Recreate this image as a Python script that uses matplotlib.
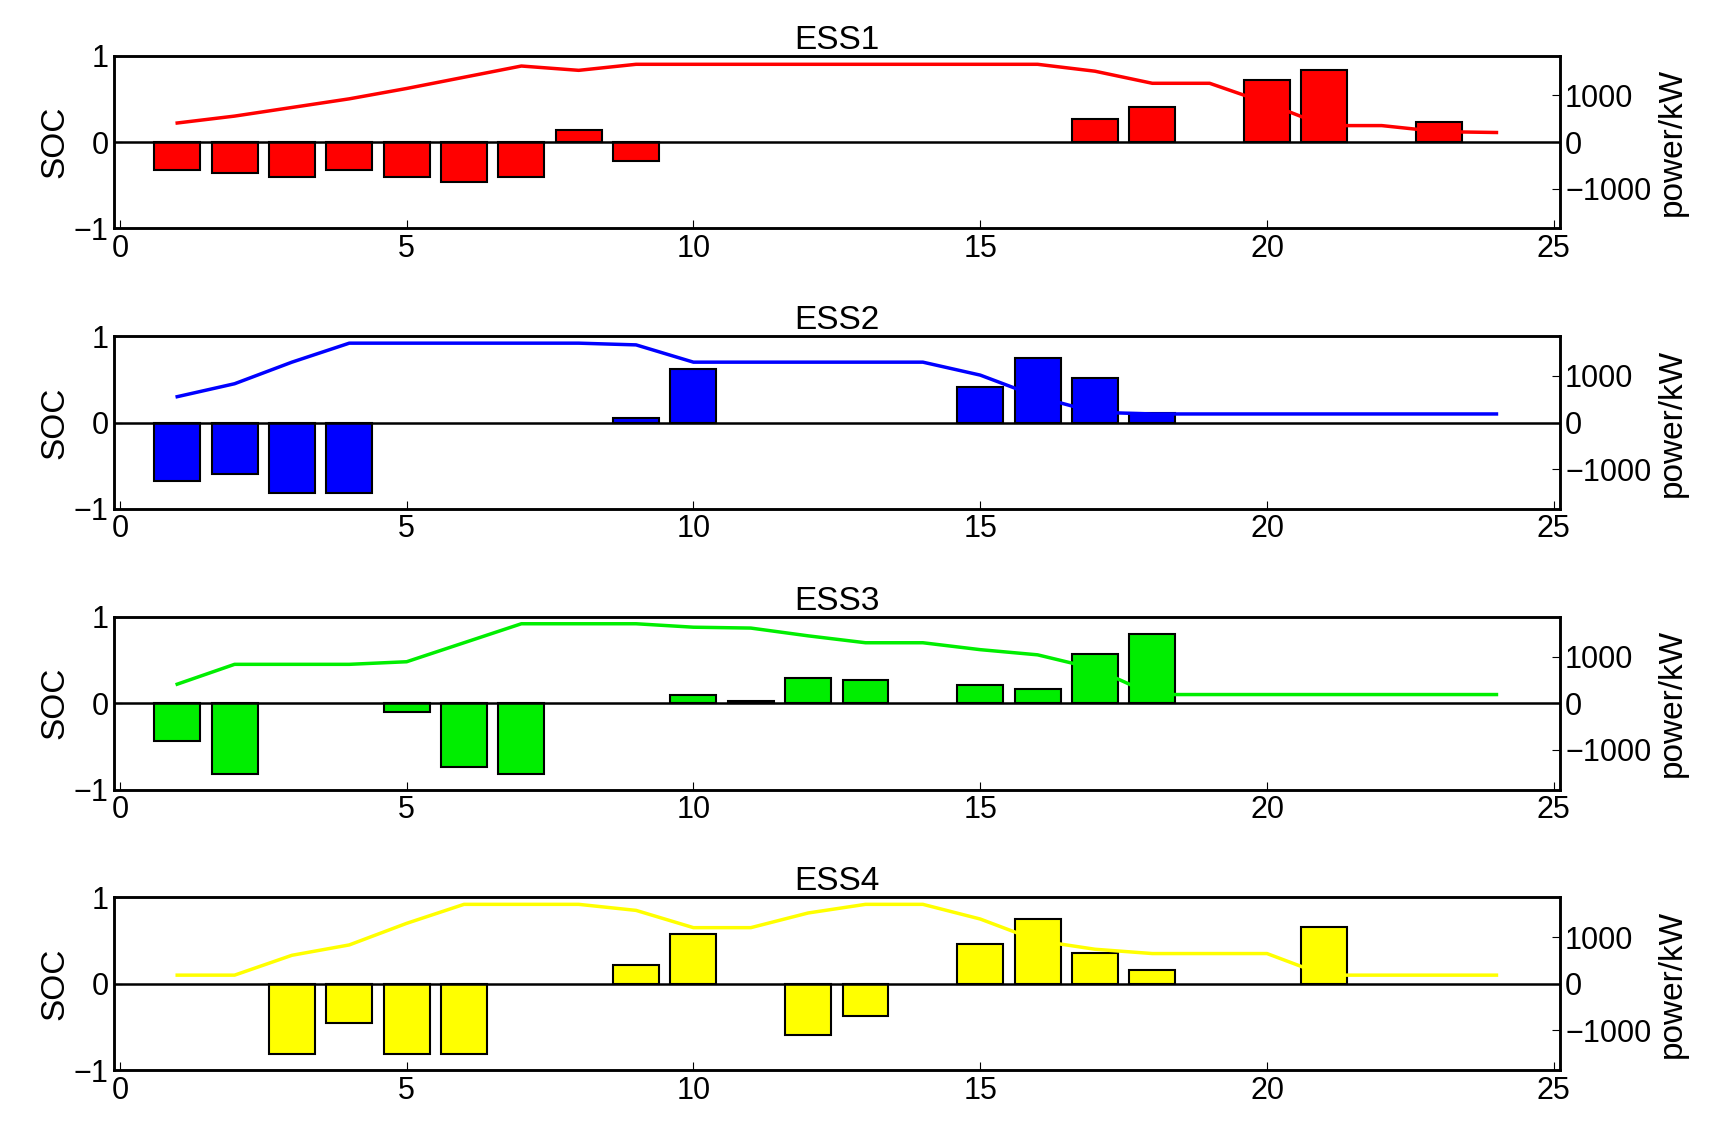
import matplotlib
matplotlib.use("Agg")
import matplotlib.pyplot as plt

plt.rcParams['font.family'] = ['Liberation Sans', 'DejaVu Sans']

hours = list(range(1, 25))
titles = ["ESS1", "ESS2", "ESS3", "ESS4"]
colors = ["#ff0000", "#0000ff", "#00ee00", "#ffff00"]

soc1 = [0.22,0.3,0.4,0.5,0.62,0.75,0.88,0.83,0.9,0.9,0.9,0.9,0.9,0.9,0.9,0.9,0.82,0.68,0.68,0.45,0.19,0.19,0.12,0.11]
soc2 = [0.3,0.45,0.7,0.92,0.92,0.92,0.92,0.92,0.9,0.7,0.7,0.7,0.7,0.7,0.55,0.3,0.12,0.1,0.1,0.1,0.1,0.1,0.1,0.1]
soc3 = [0.22,0.45,0.45,0.45,0.48,0.7,0.92,0.92,0.92,0.88,0.87,0.78,0.7,0.7,0.62,0.56,0.4,0.1,0.1,0.1,0.1,0.1,0.1,0.1]
soc4 = [0.1,0.1,0.33,0.45,0.7,0.92,0.92,0.92,0.85,0.65,0.65,0.82,0.92,0.92,0.75,0.5,0.4,0.35,0.35,0.35,0.1,0.1,0.1,0.1]

p1 = [-600,-670,-760,-600,-760,-860,-760,260,-400,0,0,0,0,0,0,0,500,740,0,1330,1550,0,430,0]
p2 = [-1260,-1100,-1500,-1500,0,0,0,0,90,1140,0,0,0,0,760,1380,950,210,0,0,0,0,0,0]
p3 = [-810,-1520,0,0,-190,-1360,-1520,0,0,170,50,550,500,0,380,310,1050,1480,0,0,0,0,0,0]
p4 = [0,0,-1500,-830,-1500,-1500,0,0,400,1070,0,-1100,-690,0,860,1380,670,290,0,0,1210,0,0,0]

socs = [soc1, soc2, soc3, soc4]
powers = [p1, p2, p3, p4]

fig = plt.figure(figsize=(17.29, 11.36), dpi=100)
tops = [0.951, 0.704, 0.457, 0.210]
h = 0.152
for i in range(4):
    ax = fig.add_axes([0.066, tops[i] - h, 0.836, h])
    ax2 = ax.twinx()
    pw = powers[i]
    hs = [hr for hr, v in zip(hours, pw) if v != 0]
    vs = [v for v in pw if v != 0]
    ax2.bar(hs, vs, width=0.8, color=colors[i], edgecolor="black", linewidth=1.5, zorder=2)
    ax2.axhline(0, color="black", lw=1.8, zorder=3)
    ax2.set_ylim(-1850, 1850)
    ax2.set_yticks([-1000, 0, 1000])
    ax2.set_ylabel("power/kW", fontsize=24)
    ax.plot(hours, socs[i], color=colors[i], lw=2.5, zorder=1)
    ax.set_ylim(-1, 1)
    ax.set_yticks([-1, 0, 1])
    ax.set_xlim(-0.1, 25.1)
    ax.set_xticks([0, 5, 10, 15, 20, 25])
    ax.set_ylabel("SOC", fontsize=24, labelpad=2)
    ax.set_title(titles[i], fontsize=24, pad=3)
    ax.set_zorder(ax2.get_zorder() + 1)
    ax.patch.set_visible(False)
    for a in (ax, ax2):
        a.tick_params(labelsize=22, direction="in", length=6, pad=4)
        for s in a.spines.values():
            s.set_linewidth(1.8)

fig.savefig("out.png", dpi=100)
